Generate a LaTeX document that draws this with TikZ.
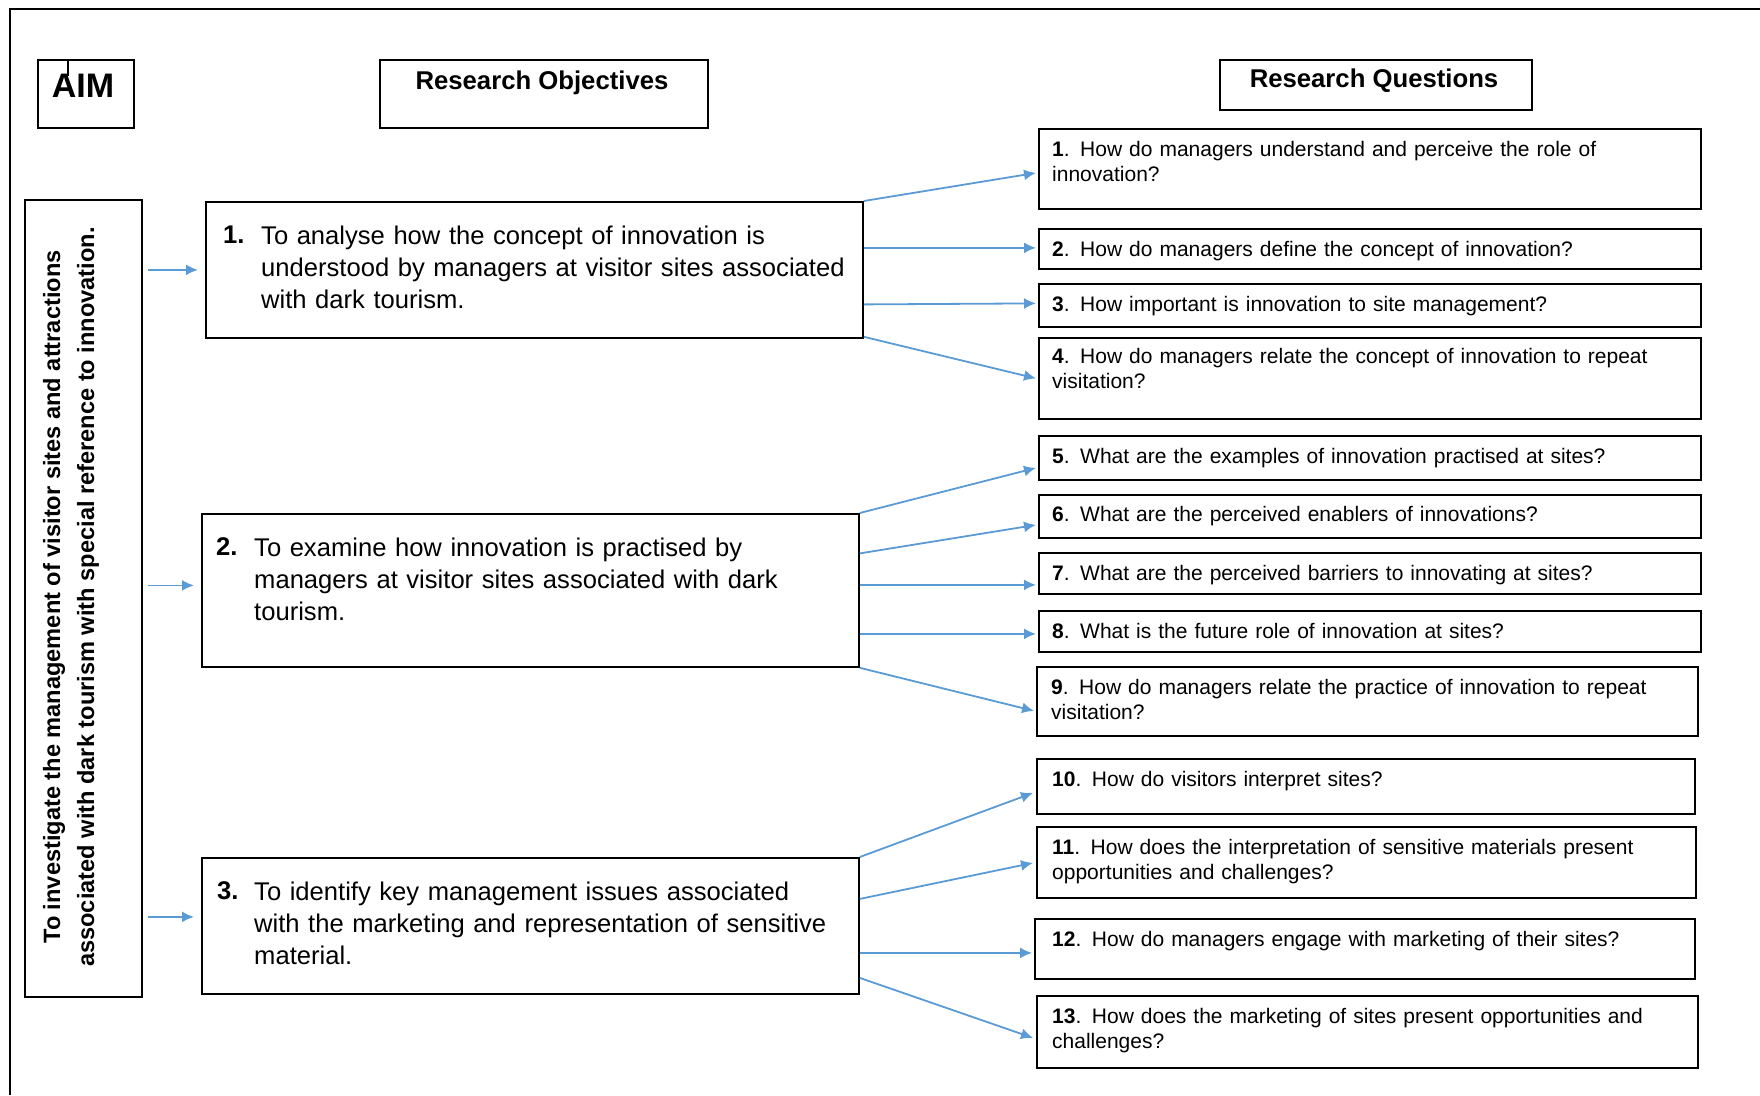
\documentclass[tikz,border=0pt]{standalone}
\usepackage{fontspec}
\setmainfont{Liberation Sans}
\usetikzlibrary{arrows.meta,calc}

\definecolor{linkblue}{RGB}{91,155,213}

\newcommand{\qfont}{\fontsize{21}{25.5}\selectfont}
\newcommand{\ofont}{\fontsize{25.6}{32}\selectfont}
\newcommand{\hdfont}{\fontsize{25.7}{30}\selectfont\bfseries}
\newcommand{\aimfont}{\fontsize{23.6}{34}\selectfont\bfseries}

\tikzset{
  frame/.style={draw=black, line width=1.8pt, rectangle, inner sep=0pt, anchor=north west},
  qtext/.style={anchor=north west, inner sep=0pt, text width=660pt, align=left, font=\qfont},
  otext/.style={anchor=north west, inner sep=0pt, text width=620pt, align=left, font=\ofont},
  onum/.style={anchor=north west, inner sep=0pt, font=\ofont\bfseries},
  link/.style={draw=linkblue, line width=1.8pt, -{Latex[length=12pt,width=11pt]}},
}

\begin{document}
\begin{tikzpicture}[x=1pt, y=-1pt]
\useasboundingbox (0,0) rectangle (1760,1095);

% outer border (open at the right and the bottom)
\draw[line width=2pt] (10,1095) -- (10,8.5) -- (1760,8.5);

% column headings
\node[frame, minimum width=96pt, minimum height=68pt] (aimhd) at (37,59) {};
\node[font=\fontsize{34}{40}\selectfont\bfseries, inner sep=0pt] (aimhdt) at (83,86) {AIM};
\draw[line width=1.2pt] (68,59) -- (68,76);

\node[frame, minimum width=328pt, minimum height=68pt] (objhd) at (379,59) {};
\node[font=\hdfont, inner sep=0pt] (objhdt) at (542,83) {Research Objectives};

\node[frame, minimum width=312pt, minimum height=50pt] (qhd) at (1219,59) {};
\node[font=\hdfont, inner sep=0pt] (qhdt) at (1374,81) {Research Questions};

% aim
\node[frame, minimum width=117pt, minimum height=797pt] (aim) at (24,199) {};
\node[font=\aimfont, rotate=90, align=center, inner sep=0pt] (aimt) at (71,597)
  {To investigate the management of visitor sites and attractions\\
   associated with dark tourism with special reference to innovation.};

% objectives: number and hanging text
\node[frame, minimum width=657pt, minimum height=136pt] (obj1) at (205,201) {};
\node[onum] (obj1n) at ($(obj1.north west)+(18,24.5)$) {1.};
\node[otext] (obj1t) at ($(obj1.north west)+(56,24.5)$)
  {To analyse how the concept of innovation is\\
   understood by managers at visitor sites associated\\
   with dark tourism.};

\node[frame, minimum width=657pt, minimum height=153pt] (obj2) at (201,513) {};
\node[onum] (obj2n) at ($(obj2.north west)+(15,24.5)$) {2.};
\node[otext] (obj2t) at ($(obj2.north west)+(53,24.5)$)
  {To examine how innovation is practised by\\
   managers at visitor sites associated with dark\\
   tourism.};

\node[frame, minimum width=657pt, minimum height=136pt] (obj3) at (201,857) {};
\node[onum] (obj3n) at ($(obj3.north west)+(16,24.5)$) {3.};
\node[otext] (obj3t) at ($(obj3.north west)+(53,24.5)$)
  {To identify key management issues associated\\
   with the marketing and representation of sensitive\\
   material.};

% research questions
\node[frame, minimum width=662pt, minimum height=80pt] (q1) at (1038,128) {};
\node[qtext] (q1t) at ($(q1.north west)+(14,13)$)
  {\textbf{1}. How do managers understand and perceive the role of\\ innovation?};

\node[frame, minimum width=662pt, minimum height=40pt] (q2) at (1038,228) {};
\node[qtext] (q2t) at ($(q2.north west)+(14,13)$)
  {\textbf{2}. How do managers define the concept of innovation?};

\node[frame, minimum width=662pt, minimum height=43pt] (q3) at (1038,283) {};
\node[qtext] (q3t) at ($(q3.north west)+(14,13)$)
  {\textbf{3}. How important is innovation to site management?};

\node[frame, minimum width=662pt, minimum height=81pt] (q4) at (1038,337) {};
\node[qtext] (q4t) at ($(q4.north west)+(14,11)$)
  {\textbf{4}. How do managers relate the concept of innovation to repeat\\ visitation?};

\node[frame, minimum width=662pt, minimum height=44pt] (q5) at (1038,435) {};
\node[qtext] (q5t) at ($(q5.north west)+(14,13)$)
  {\textbf{5}. What are the examples of innovation practised at sites?};

\node[frame, minimum width=662pt, minimum height=43pt] (q6) at (1038,494) {};
\node[qtext] (q6t) at ($(q6.north west)+(14,12)$)
  {\textbf{6}. What are the perceived enablers of innovations?};

\node[frame, minimum width=662pt, minimum height=41pt] (q7) at (1038,552) {};
\node[qtext] (q7t) at ($(q7.north west)+(14,13)$)
  {\textbf{7}. What are the perceived barriers to innovating at sites?};

\node[frame, minimum width=662pt, minimum height=41pt] (q8) at (1038,610) {};
\node[qtext] (q8t) at ($(q8.north west)+(14,13)$)
  {\textbf{8}. What is the future role of innovation at sites?};

\node[frame, minimum width=661pt, minimum height=69pt] (q9) at (1036,666) {};
\node[qtext] (q9t) at ($(q9.north west)+(15,13)$)
  {\textbf{9}. How do managers relate the practice of innovation to repeat\\ visitation?};

\node[frame, minimum width=658pt, minimum height=55pt] (q10) at (1036,758) {};
\node[qtext] (q10t) at ($(q10.north west)+(16,13)$)
  {\textbf{10}. How do visitors interpret sites?};

\node[frame, minimum width=659pt, minimum height=71pt] (q11) at (1036,826) {};
\node[qtext] (q11t) at ($(q11.north west)+(16,13)$)
  {\textbf{11}. How does the interpretation of sensitive materials present\\ opportunities and challenges?};

\node[frame, minimum width=660pt, minimum height=60pt] (q12) at (1034,918) {};
\node[qtext] (q12t) at ($(q12.north west)+(18,13)$)
  {\textbf{12}. How do managers engage with marketing of their sites?};

\node[frame, minimum width=661pt, minimum height=72pt] (q13) at (1036,995) {};
\node[qtext] (q13t) at ($(q13.north west)+(16,13)$)
  {\textbf{13}. How does the marketing of sites present opportunities and\\ challenges?};

% aim -> objectives
\draw[link, shorten <=5pt, shorten >=7pt] (aim.east |- obj1.west) -- (obj1.west);
\draw[link, shorten <=5pt, shorten >=7pt] ($(aim.east |- obj2.west)+(0,-5)$) -- ($(obj2.west)+(0,-5)$);
\draw[link, shorten <=5pt, shorten >=7pt] ($(aim.east |- obj3.west)+(0,-9)$) -- ($(obj3.west)+(0,-9)$);

% objective 1 -> questions 1-4
\draw[link] (obj1.north east) -- ($(q1.west)+(-2,4)$);
\draw[link] ($(obj1.east |- q2.west)+(0,-1)$) -- ($(q2.west)+(-2,-1)$);
\draw[link] ($(obj1.east |- q3.west)+(0,-1)$) -- ($(q3.west)+(-2,-2)$);
\draw[link] ($(obj1.south east)+(0,-2)$) -- ($(q4.west)+(-2,0)$);

% objective 2 -> questions 5-9
\draw[link] (obj2.north east) -- ($(q5.west)+(-2,10)$);
\draw[link] ($(obj2.east)+(0,-37)$) -- ($(q6.west)+(-2,8.5)$);
\draw[link] ($(obj2.east)+(0,-5.5)$) -- ($(q7.west)+(-2,11.5)$);
\draw[link] ($(obj2.east)+(0,43.5)$) -- ($(q8.west)+(-2,2.5)$);
\draw[link] (obj2.south east) -- ($(q9.west)+(-2,9.5)$);

% objective 3 -> questions 10-13
\draw[link] (obj3.north east) -- ($(q10.west)+(-3,6.5)$);
\draw[link] ($(obj3.east)+(0,-27)$) -- ($(q11.west)+(-3,0.5)$);
\draw[link] ($(obj3.east)+(0,27)$) -- ($(q12.west)+(-2,4)$);
\draw[link] ($(obj3.east)+(0,52)$) -- ($(q13.west)+(-3,6)$);
\end{tikzpicture}
\end{document}
